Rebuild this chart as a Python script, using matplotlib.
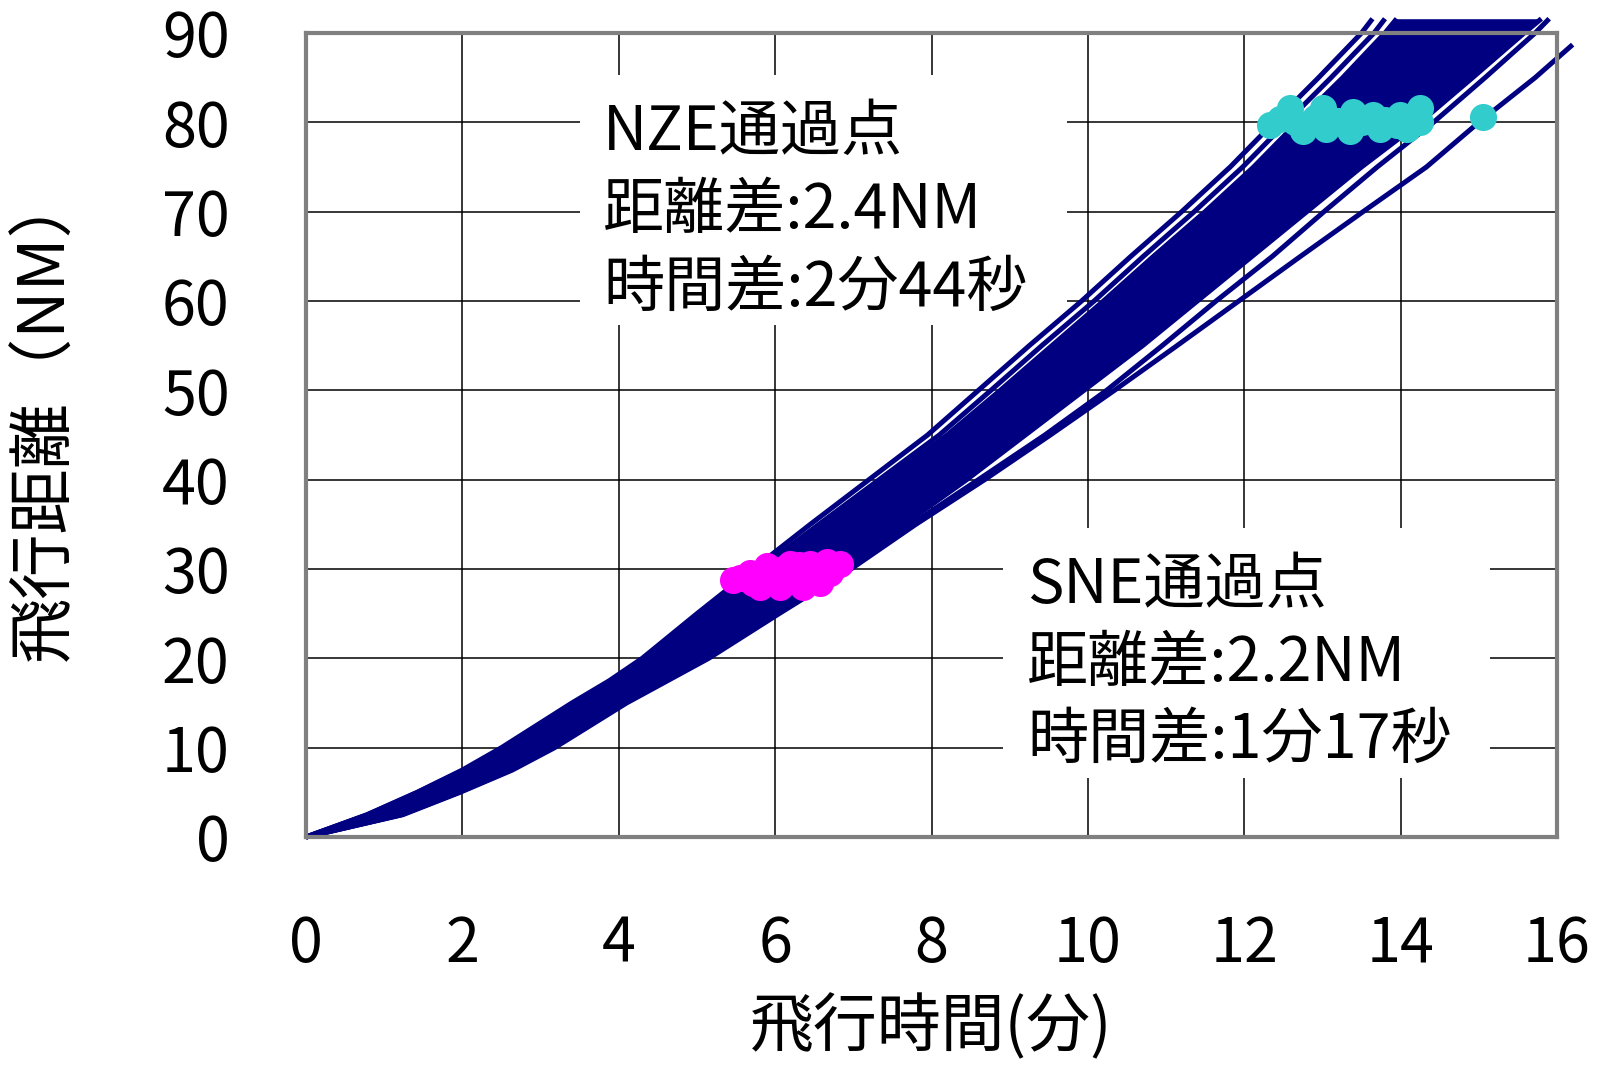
import matplotlib
matplotlib.use("Agg")
import matplotlib.pyplot as plt
from matplotlib.patches import Rectangle

plt.rcParams['font.family'] = ['Noto Sans CJK JP', 'DejaVu Sans']

# ---- data ----
# flight distance levels (NM) and flight times (min) of the trajectory band
dist = [0, 2.5, 5, 7.5, 10, 12.5, 15, 17.5, 20, 25, 30, 35, 40, 45, 50, 55, 60, 65, 70, 75, 80, 85, 90, 91.6]
upper_line1 = [0, 0.78, 1.42, 2.0, 2.5, 2.95, 3.4, 3.88, 4.3, 5.0, 5.72, 6.45, 7.2, 7.95, 8.6, 9.25, 9.92, 10.55, 11.2, 11.82, 12.38, 12.95, 13.5, 13.64]
upper_line2 = [0, 0.79, 1.43, 2.02, 2.52, 2.98, 3.43, 3.92, 4.34, 5.06, 5.8, 6.56, 7.33, 8.1, 8.76, 9.41, 10.08, 10.71, 11.36, 11.98, 12.54, 13.11, 13.66, 13.8]
band_fast = [0, 0.8, 1.45, 2.04, 2.55, 3.0, 3.46, 3.95, 4.38, 5.12, 5.86, 6.64, 7.42, 8.2, 8.88, 9.54, 10.2, 10.84, 11.5, 12.12, 12.68, 13.26, 13.8, 13.95]
band_slow = [0, 1.22, 1.95, 2.62, 3.15, 3.62, 4.05, 4.56, 5.1, 6.0, 6.9, 7.65, 8.45, 9.2, 9.95, 10.7, 11.4, 12.1, 12.8, 13.5, 14.25, 14.92, 15.58, 15.8]
line_a = [0, 1.22, 1.95, 2.62, 3.15, 3.62, 4.05, 4.56, 5.1, 6.0, 6.95, 7.74, 8.6, 9.45, 10.24, 10.95, 11.64, 12.36, 13.02, 13.7, 14.42, 15.08, 15.72, 15.9]
# slowest trajectory
c_dist = [0, 2.5, 5, 7.5, 10, 15, 20, 25, 30, 35, 40, 45, 50, 55, 60, 65, 70, 75, 80, 85, 88.7]
c_time = [0, 1.24, 1.97, 2.64, 3.18, 4.1, 5.15, 6.05, 6.97, 7.8, 8.68, 9.52, 10.34, 11.14, 11.93, 12.72, 13.52, 14.33, 15.0, 15.72, 16.2]

# SNE passing points (time, distance)
sne_time = [5.46, 5.55, 5.68, 5.72, 5.81, 5.89, 5.95, 6.06, 6.1, 6.19, 6.27, 6.3, 6.36, 6.45, 6.5, 6.57, 6.66, 6.7, 6.75, 6.83]
sne_dist = [28.8, 29.0, 29.5, 28.4, 28.0, 30.3, 29.2, 28.0, 30.0, 30.6, 29.9, 30.5, 28.0, 30.6, 29.4, 28.4, 30.8, 29.6, 30.2, 30.6]
# NZE passing points (time, distance)
nze_time = [12.33, 12.46, 12.58, 12.65, 12.75, 12.9, 13.01, 13.05, 13.2, 13.35, 13.39, 13.5, 13.65, 13.73, 13.8, 13.95, 13.99, 14.08, 14.15, 14.25, 14.25, 15.05]
nze_dist = [79.7, 80.4, 81.6, 80.0, 79.0, 80.5, 81.6, 79.3, 80.2, 79.0, 81.2, 80.0, 80.8, 79.3, 80.3, 79.7, 80.8, 79.3, 80.4, 81.6, 80.0, 80.6]

x_ticks = [0, 2, 4, 6, 8, 10, 12, 14, 16]
y_ticks = [0, 10, 20, 30, 40, 50, 60, 70, 80, 90]

nze_lines = ["NZE通過点", "距離差:2.4NM", "時間差:2分44秒"]
sne_lines = ["SNE通過点", "距離差:2.2NM", "時間差:1分17秒"]

x_label = "飛行時間(分)"
y_label = "飛行距離（NM）"

# ---- figure ----
W, H = 1597, 1066
fig = plt.figure(figsize=(W / 100, H / 100), dpi=100)
ax = fig.add_axes([306 / W, (H - 837) / H, 1251 / W, 804 / H])

navy = '#000080'
LW = 3.6
ax.set_xlim(0, 16)
ax.set_ylim(0, 90)
ax.set_xticks(x_ticks)
ax.set_yticks(y_ticks)
ax.set_xticklabels([str(v) for v in x_ticks])
ax.set_yticklabels([str(v) for v in y_ticks])
ax.tick_params(length=0, labelsize=44, pad=55)
ax.grid(True, color='black', linewidth=1.1, zorder=0)
ax.set_axisbelow(True)
for s in ax.spines.values():
    s.set_color('#808080')
    s.set_linewidth(3)

# white boxes behind annotations
ax.add_patch(Rectangle((3.50, 57.3), 6.23, 28.0, facecolor='white', edgecolor='none', zorder=1.5))
ax.add_patch(Rectangle((8.91, 6.6), 6.23, 28.0, facecolor='white', edgecolor='none', zorder=1.5))

# trajectory band
ax.fill_betweenx(dist, band_fast, band_slow, color=navy, linewidth=0, zorder=2, clip_on=False)
for xs in (upper_line1, upper_line2, band_fast, band_slow, line_a):
    ax.plot(xs, dist, color=navy, lw=LW, zorder=2.1, clip_on=False,
            solid_capstyle='butt', solid_joinstyle='round')
ax.plot(c_time, c_dist, color=navy, lw=LW, zorder=2.1, clip_on=False,
        solid_capstyle='butt', solid_joinstyle='round')

# passing points
ax.plot(sne_time, sne_dist, 'o', color='#FF00FF', markersize=19.5, markeredgewidth=0, zorder=3)
ax.plot(nze_time, nze_dist, 'o', color='#33CCCC', markersize=19.5, markeredgewidth=0, zorder=3)

# annotations
for i, t in enumerate(nze_lines):
    ax.text(3.80, 76.9 - 8.7 * i, t, fontsize=44, va='baseline', ha='left', zorder=4)
for i, t in enumerate(sne_lines):
    ax.text(9.22, 26.2 - 8.7 * i, t, fontsize=44, va='baseline', ha='left', zorder=4)

ax.set_xlabel(x_label, fontsize=46)
ax.set_ylabel(y_label, fontsize=47)
ax.xaxis.set_label_coords(0.5, -0.238)
ax.xaxis.label.set_va('center')
ax.yaxis.set_label_coords(-0.208, 0.525)
ax.yaxis.label.set_va('center')

fig.savefig('out.png', dpi=100)
